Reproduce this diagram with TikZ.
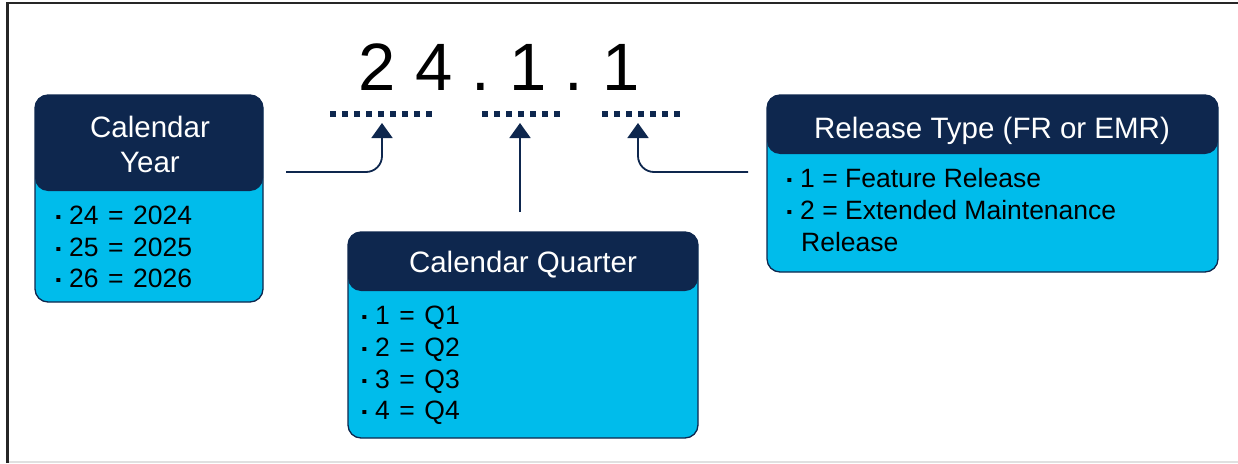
\documentclass[tikz,border=0pt]{standalone}
\usepackage{fontspec}
\setmainfont{Liberation Sans}
\usetikzlibrary{arrows.meta}
\definecolor{navy}{HTML}{0E274E}
\definecolor{ciscoblue}{HTML}{00BCEB}
\definecolor{framegray}{HTML}{262626}
\newcommand\bul{\llap{\raisebox{1.5pt}{\fontsize{16}{16}\selectfont ▪}\hspace{8pt}}}
\newcommand\eqsp{\hspace{0.36em}=\hspace{0.36em}}
\begin{document}
\begin{tikzpicture}[x=1pt,y=-1pt,
  infobox/.style={draw=navy, line width=1.3pt, fill=ciscoblue, rounded corners=13pt, inner sep=0pt},
  hdr/.style={path picture={\fill[navy] (path picture bounding box.north west) rectangle ([yshift=-#1]path picture bounding box.north east);}},
  titletxt/.style={text=white, font=\fontsize{29.5}{33}\selectfont, inner sep=0pt, anchor=base},
  bodytxt/.style={text=black, font=\fontsize{26.5}{31.5}\selectfont, inner sep=0pt, anchor=base west},
  bignum/.style={text=black, font=\fontsize{67}{67}\selectfont, inner sep=0pt, anchor=base},
  dots/.style={draw=navy, line width=6pt, dash pattern=on 6pt off 6pt},
  arr/.style={draw=navy, line width=1.8pt, -{Triangle[width=21pt,length=15pt]}, rounded corners=16pt}]

\useasboundingbox (0,0) rectangle (1238,463);
\fill[white] (0,0) rectangle (1238,463);
% frame
\draw[framegray, line width=2.8pt] (7.5,463) -- (7.5,3) -- (1238,3);
\draw[black!12, line width=1.5pt] (9,462.2) -- (1238,462.2);

% version number
\node[bignum] (d1) at (377.5,90) {2};
\node[bignum] (d2) at (434,90) {4};
\node[bignum] (p1) at (480.5,90) {.};
\node[bignum] (d3) at (528.5,90) {1};
\node[bignum] (p2) at (574,90) {.};
\node[bignum] (d4) at (621.5,90) {1};

% dotted underlines
\draw[dots] (330,114) -- (432,114);
\draw[dots] (482,114) -- (560,114);
\draw[dots] (602,114) -- (680,114);

% boxes
\node[infobox, hdr=96pt, minimum width=228pt, minimum height=207pt] (year) at (149,198.5) {};
\node[infobox, hdr=59pt, minimum width=350pt, minimum height=206pt] (quarter) at (523,335) {};
\node[infobox, hdr=59pt, minimum width=451pt, minimum height=177pt] (rtype) at (992.5,183.5) {};

% titles
\node[titletxt] (yt1) at (150,137) {Calendar};
\node[titletxt] (yt2) at (150,172) {Year};
\node[titletxt] (qt) at (523,272) {Calendar Quarter};
\node[titletxt] (rt) at (992,138) {Release Type (FR or EMR)};

% body texts
\node[bodytxt] (y1) at (69,224) {\bul 24\eqsp 2024};
\node[bodytxt] (y2) at (69,256) {\bul 25\eqsp 2025};
\node[bodytxt] (y3) at (69,287) {\bul 26\eqsp 2026};

\node[bodytxt] (q1) at (375,324) {\bul 1\eqsp Q1};
\node[bodytxt] (q2) at (375,356) {\bul 2\eqsp Q2};
\node[bodytxt] (q3) at (375,388) {\bul 3\eqsp Q3};
\node[bodytxt] (q4) at (375,419) {\bul 4\eqsp Q4};

\node[bodytxt] (r1) at (800,187) {\bul 1 = Feature Release};
\node[bodytxt] (r2) at (800,219) {\bul 2 = Extended Maintenance};
\node[bodytxt] (r3) at (801,251) {Release};

% arrows
\coordinate (a1s) at (286,172);
\coordinate (t1) at (382,123);
\coordinate (a2s) at (520,212);
\coordinate (t2) at (520,123);
\coordinate (a3s) at (748,172);
\coordinate (t3) at (638,123);
\draw[arr] (a1s) -| (t1);
\draw[arr] (a2s) -- (t2);
\draw[arr] (a3s) -| (t3);
\end{tikzpicture}
\end{document}
